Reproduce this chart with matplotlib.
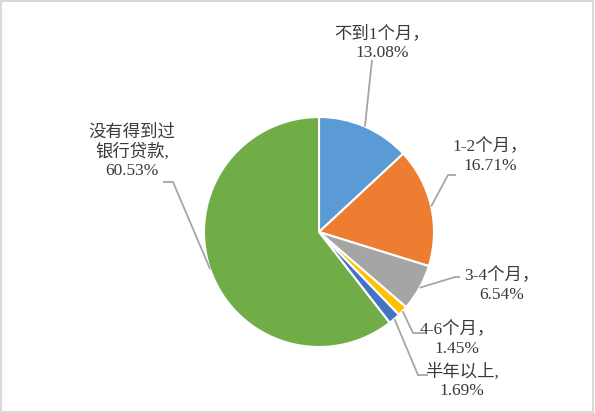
import matplotlib
matplotlib.use('Agg')
import matplotlib.pyplot as plt
import numpy as np

# data
labels = ['不到1个月，', '1-2个月，', '3-4个月，', '4-6个月，', '半年以上,', '没有得到过\n银行贷款,']
values = [13.08, 16.71, 6.54, 1.45, 1.69, 60.53]
colors = ['#5B9BD5', '#ED7D31', '#A5A5A5', '#FFC000', '#4472C4', '#70AD47']

# layout (pixels, y from top)
W, H = 595, 413
cx, cy, R = 319, 232, 115
text_pos = [(382, 43), (490, 156), (502, 285), (457, 339), (462, 381), (132, 152)]
elbows = [[(372, 60)],
          [(448, 175), (456, 175)],
          [(455, 277), (460, 277)],
          [(413, 333), (425, 333)],
          [(418, 375), (428, 375)],
          [(173, 182), (163, 182)]]

plt.rcParams['font.family'] = ['Liberation Serif', 'Noto Sans CJK SC', 'DejaVu Sans']

fig = plt.figure(figsize=(W / 100, H / 100), dpi=100)
ax = fig.add_axes([0, 0, 1, 1])

wedges, _ = ax.pie(values, colors=colors, startangle=90, counterclock=False,
                   center=(cx, H - cy), radius=R, frame=True,
                   wedgeprops=dict(edgecolor='white', linewidth=1.5))
ax.set_xlim(0, W)
ax.set_ylim(0, H)
ax.axis('off')

for i, w in enumerate(wedges):
    ang = np.deg2rad((w.theta1 + w.theta2) / 2)
    px = cx + R * np.cos(ang)
    py = (H - cy) + R * np.sin(ang)
    xs = [px] + [e[0] for e in elbows[i]]
    ys = [py] + [H - e[1] for e in elbows[i]]
    ax.plot(xs, ys, color='#A6A6A6', lw=1.3, solid_capstyle='butt')
    tx, ty = text_pos[i]
    ax.text(tx, H - ty, labels[i] + '\n' + '%.2f%%' % values[i],
            ha='center', va='center', fontsize=12.5, color='#3A3A3A',
            linespacing=1.2)

# frame around chart
fig.patches.append(plt.Rectangle((0.002, 0.003), 0.995, 0.994, transform=fig.transFigure,
                                 fill=False, edgecolor='#D9D9D9', lw=1.5))

plt.savefig('out.png', dpi=100)
